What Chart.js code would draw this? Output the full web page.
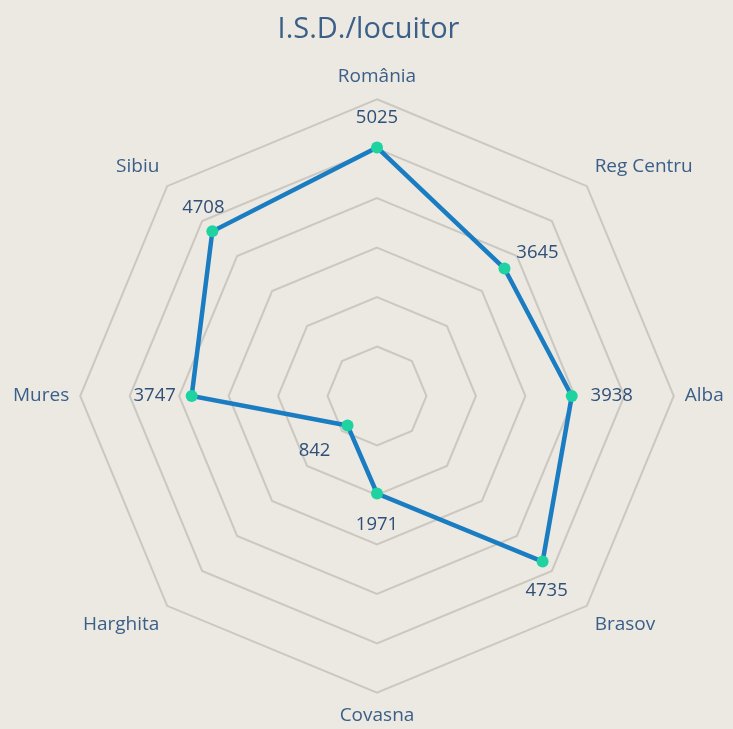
<!DOCTYPE html>
<html>
<head>
<meta charset="utf-8">
<script src="https://cdn.jsdelivr.net/npm/chart.js@4"></script>
<style>
  html, body { margin: 0; padding: 0; background: #ECE8E2; }
  #wrap { width: 733px; height: 729px; }
</style>
</head>
<body>
<div id="wrap"><canvas id="chartISD"></canvas></div>
<script>
const CATEGORII = ['România', 'Reg Centru', 'Alba', 'Brasov', 'Covasna', 'Harghita', 'Mures', 'Sibiu'];
const VALORI = [5025, 3645, 3938, 4735, 1971, 842, 3747, 4708];
const TITLU = 'I.S.D./locuitor';

// unde sta fiecare eticheta fata de punct (dx, dy)
const offsetEtichete = [[0, -30], [33, -16], [40, 0], [4, 29], [0, 31], [-33, 25], [-37, 0], [-9, -24]];

const eticheteValori = {
  id: 'eticheteValori',
  afterDatasetsDraw(chart) {
    const ctx = chart.ctx;
    const meta = chart.getDatasetMeta(0);
    ctx.save();
    ctx.font = '18.5px "Open Sans"';
    ctx.fillStyle = '#2F5078';
    ctx.textAlign = 'center';
    ctx.textBaseline = 'middle';
    meta.data.forEach((pt, i) => {
      const off = offsetEtichete[i] || [0, -25];
      ctx.fillText(String(VALORI[i]), pt.x + off[0], pt.y + off[1]);
    });
    ctx.restore();
  }
};

new Chart(document.getElementById('chartISD'), {
  type: 'radar',
  data: {
    labels: CATEGORII,
    datasets: [
      {
        label: TITLU,
        data: VALORI,
        borderColor: '#1A7CC1',
        backgroundColor: 'transparent',
        borderWidth: 4.5,
        pointRadius: 6,
        pointHoverRadius: 6,
        pointBackgroundColor: '#1FD3A0',
        pointBorderColor: '#1FD3A0',
        pointBorderWidth: 0,
        fill: false,
        tension: 0,
      },
    ],
  },
  options: {
    responsive: true,
    maintainAspectRatio: false,
    animation: false,
    layout: { padding: { top: 0, bottom: 0, left: 4, right: 0 } },
    plugins: {
      legend: { display: false },
      tooltip: { enabled: false },
      title: {
        display: true,
        text: TITLU,
        color: '#3A5F88',
        font: { family: 'Open Sans', size: 29, weight: 'normal' },
        padding: { top: 12, bottom: 18 },
      },
    },
    scales: {
      r: {
        min: 0,
        max: 6000,
        ticks: { stepSize: 1000, display: false },
        angleLines: { display: false },
        grid: { color: '#CBC7C1', lineWidth: 2 },
        pointLabels: {
          color: '#3A5F88',
          font: { family: 'Open Sans', size: 19 },
          padding: 11,
        },
      },
    },
  },
  plugins: [eticheteValori],
});
</script>
</body>
</html>
